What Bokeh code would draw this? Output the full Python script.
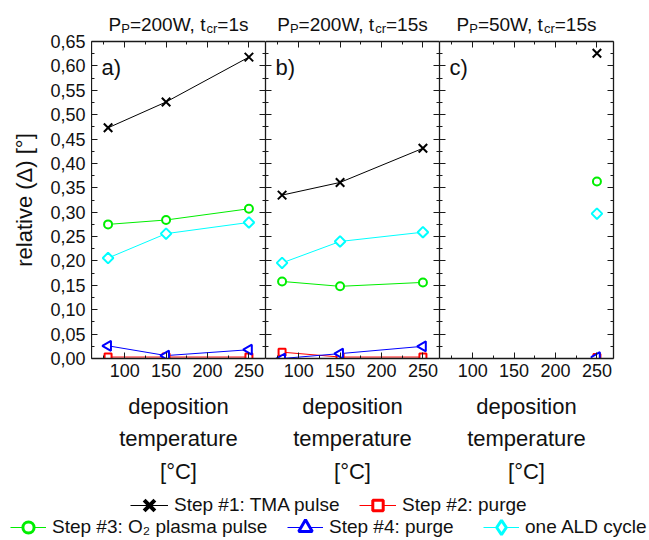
import math
from bokeh.plotting import figure
from bokeh.models import (FixedTicker, CustomJSTickFormatter, Label, Legend, LegendItem,
                          Range1d, LinearAxis, ColumnDataSource)
from bokeh.layouts import row, column
from bokeh.embed import file_html
from bokeh.resources import INLINE

FONT = "Liberation Sans"

# ---------------- data ----------------
temps = [80, 150, 250]
temps_c = [250]

a_tma = [0.473, 0.526, 0.618]
a_purge2 = [0.003, 0.003, 0.003]
a_o2 = [0.275, 0.284, 0.307]
a_purge4 = [0.026, 0.006, 0.018]
a_ald = [0.206, 0.256, 0.279]

b_tma = [0.335, 0.361, 0.431]
b_purge2 = [0.013, 0.003, 0.003]
b_o2 = [0.158, 0.148, 0.156]
b_purge4 = [0.0, 0.010, 0.025]
b_ald = [0.196, 0.240, 0.259]

c_tma = [0.626]
c_purge2 = [0.002]
c_o2 = [0.363]
c_purge4 = [0.003]
c_ald = [0.297]

x_major = [100, 150, 200, 250]
x_minor = [75, 125, 175, 225]
y_major = [round(i * 0.05, 2) for i in range(14)]
y_minor = [round(0.025 + i * 0.05, 3) for i in range(13)]

series_labels = ["Step #1: TMA pulse", "Step #2: purge", "Step #3: O\u2082 plasma pulse",
                 "Step #4: purge", "one ALD cycle"]
series_colors = ["#000000", "#FF0000", "#00EE00", "#0000FF", "#00FFFF"]

panel_titles = [
    [("P", 0), ("P", 1), ("=200W, t", 0), ("cr", 1), ("=1s", 0)],
    [("P", 0), ("P", 1), ("=200W, t", 0), ("cr", 1), ("=15s", 0)],
    [("P", 0), ("P", 1), ("=50W, t", 0), ("cr", 1), ("=15s", 0)],
]
panel_letters = ["a)", "b)", "c)"]

# ---------------- styles ----------------
# marker, size, angle, line width (plot)
mstyle = [("x", 12, 0.0, 2), ("square", 7, 0.0, 2), ("circle", 8, 0.0, 2),
          ("triangle", 10, math.pi / 2, 2), ("square", 7.5, math.pi / 4, 2)]
# legend key markers (legend keys are drawn unrotated by Bokeh)
leg_markers = ["x", "square", "circle", "triangle", "diamond"]

ARIAL = {'P': 667, '=': 584, '0': 556, '1': 556, '2': 556, '5': 556, 'W': 944, ',': 278,
         ' ': 278, 't': 278, 'c': 500, 'r': 333, 's': 500}


def tw(s, size):
    return sum(ARIAL.get(ch, 556) for ch in s) * size / 1000.0


LEFT = 91            # width of the y-axis strip
FW, FH = 174, 317    # panel frame size
MAIN, SUB = 19, 13
TH = 38              # title strip height
TOP = 3              # panel top border
BOT = 130            # panel bottom border
LH = 540 - TH - TOP - FH - BOT   # legend strip height
AXC = "#1a1a1a"

yfmt = CustomJSTickFormatter(code="return tick.toFixed(2).replace('.', ',');")


def style_axis(ax, labels):
    ax.axis_line_color = AXC
    ax.axis_line_width = 1.3
    ax.major_tick_line_color = AXC
    ax.minor_tick_line_color = AXC
    ax.major_tick_in = 6
    ax.major_tick_out = 0
    ax.minor_tick_in = 3
    ax.minor_tick_out = 0
    if labels:
        ax.major_label_text_font = FONT
        ax.major_label_text_font_size = "18px"
        ax.major_label_text_color = "#111111"
    else:
        ax.major_label_text_font_size = "0px"
        ax.major_label_text_color = None
        ax.major_label_standoff = 0


# ---------------- y-axis strip (tick labels + axis title) ----------------
yfig = figure(frame_width=1, frame_height=FH, x_range=Range1d(0, 1), y_range=Range1d(0, 0.65),
              min_border_left=LEFT - 1, min_border_right=0, min_border_top=TH + TOP,
              min_border_bottom=BOT, x_axis_type=None, toolbar_location=None,
              output_backend="svg", outline_line_color=None, border_fill_color="white",
              background_fill_color="white")
yfig.grid.visible = False
ya0 = yfig.yaxis[0]
ya0.ticker = FixedTicker(ticks=y_major, minor_ticks=y_minor)
ya0.formatter = yfmt
ya0.axis_line_color = None
ya0.major_tick_line_color = None
ya0.minor_tick_line_color = None
ya0.major_tick_in = 0
ya0.major_tick_out = 0
ya0.minor_tick_in = 0
ya0.minor_tick_out = 0
ya0.major_label_text_font = FONT
ya0.major_label_text_font_size = "18px"
ya0.major_label_text_color = "#111111"
ya0.major_label_standoff = 5
ya0.axis_label = "relative (\u0394) [°]"
ya0.axis_label_text_font = FONT
ya0.axis_label_text_font_size = "22px"
ya0.axis_label_text_font_style = "normal"
ya0.axis_label_standoff = 10
ya0.axis_label_text_color = "#111111"


def make_panel(idx, xs, data):
    right = 36 if idx == 2 else 0
    p = figure(frame_width=FW, frame_height=FH, x_range=Range1d(60, 270), y_range=Range1d(0, 0.65),
               min_border_left=0, min_border_right=right, min_border_top=TOP,
               min_border_bottom=BOT, toolbar_location=None, output_backend="svg",
               outline_line_color=None, border_fill_color="white", background_fill_color="white")
    p.grid.visible = False

    xa = p.xaxis[0]
    xa.ticker = FixedTicker(ticks=x_major, minor_ticks=x_minor)
    style_axis(xa, True)
    xa.major_label_standoff = 5
    xa.axis_label = "deposition\ntemperature\n[°C]"
    xa.axis_label_text_font = FONT
    xa.axis_label_text_font_size = "22px"
    xa.axis_label_text_font_style = "normal"
    xa.axis_label_text_line_height = 1.3
    xa.axis_label_standoff = 14
    xa.axis_label_text_color = "#111111"

    ya = p.yaxis[0]
    ya.ticker = FixedTicker(ticks=y_major, minor_ticks=y_minor)
    style_axis(ya, False)

    ra = LinearAxis(ticker=FixedTicker(ticks=y_major, minor_ticks=y_minor))
    style_axis(ra, False)
    p.add_layout(ra, "right")
    ta = LinearAxis(ticker=FixedTicker(ticks=x_major, minor_ticks=x_minor))
    style_axis(ta, False)
    p.add_layout(ta, "above")

    for k, ys in enumerate(data):
        col = series_colors[k]
        src = ColumnDataSource(dict(x=xs, y=ys))
        if len(xs) > 1:
            p.line("x", "y", source=src, line_color=col, line_width=1)
    for k, ys in enumerate(data):
        col = series_colors[k]
        mk, sz, ang, lw = mstyle[k]
        src = ColumnDataSource(dict(x=xs, y=ys))
        p.scatter("x", "y", source=src, marker=mk, size=sz, angle=ang, line_color=col,
                  fill_color="white" if mk != "x" else None, line_width=lw)

    p.add_layout(Label(x=10, y=FH - 26, x_units="screen", y_units="screen", text=panel_letters[idx],
                       text_font=FONT, text_font_size="22px", text_baseline="middle",
                       text_align="left", text_color="#111111"))
    return p


pa = make_panel(0, temps, [a_tma, a_purge2, a_o2, a_purge4, a_ald])
pb = make_panel(1, temps, [b_tma, b_purge2, b_o2, b_purge4, b_ald])
pc = make_panel(2, temps_c, [c_tma, c_purge2, c_o2, c_purge4, c_ald])

# ---------------- title strip (above the three panels) ----------------
tfig = figure(width=649 - LEFT, height=TH, x_range=Range1d(0, 1), y_range=Range1d(0, 1),
              x_axis_type=None, y_axis_type=None, min_border=0, toolbar_location=None,
              output_backend="svg", outline_line_color=None, border_fill_color="white")
tfig.grid.visible = False
for idx, pieces in enumerate(panel_titles):
    total = sum(tw(t, SUB if s else MAIN) for t, s in pieces)
    x0 = FW * (idx + 0.5) - total / 2
    for t, s in pieces:
        fs = SUB if s else MAIN
        tfig.add_layout(Label(x=x0, y=(10 if s else 14), x_units="screen", y_units="screen",
                              text=t, text_font=FONT, text_font_size=f"{fs}px",
                              text_baseline="alphabetic", text_align="left", text_color="#111111"))
        x0 += tw(t, fs)

# ---------------- legend strip ----------------
leg = figure(width=649, height=LH, x_range=Range1d(0, 1), y_range=Range1d(0, 1),
             x_axis_type=None, y_axis_type=None, min_border=0, toolbar_location=None,
             output_backend="svg", outline_line_color=None, border_fill_color="white")
leg.grid.visible = False

# (x of glyph start, row center from top, glyph width, glyph height, marker line width)
leg_layout = [(130, 17, 38, 46, 4), (359, 17, 37, 26, 3), (10, 39, 36, 28, 3),
              (287, 39, 36, 34, 3), (483, 39, 36, 36, 3)]
# legend key renderers: one point each, outside the strip's visible range
key_src = ColumnDataSource(dict(x=[temps[0]], y=[a_tma[0]]))
for k in range(5):
    col = series_colors[k]
    mk = leg_markers[k]
    gx, gyc, gw, gh, mlw = leg_layout[k]
    lr = leg.line("x", "y", source=key_src, line_color=col, line_width=1)
    sr = leg.scatter("x", "y", source=key_src, marker=mk, size=10, line_color=col,
                     fill_color="white" if mk != "x" else None, line_width=mlw)
    h = max(gh, 23)
    lg = Legend(items=[LegendItem(label=series_labels[k], renderers=[lr, sr])],
                location=(gx, LH - gyc - h / 2), orientation="horizontal",
                glyph_width=gw, glyph_height=gh, label_standoff=6, label_height=23,
                label_text_font=FONT, label_text_font_size="19px", label_text_color="#111111",
                padding=0, margin=0, spacing=0, border_line_color=None, background_fill_alpha=0)
    leg.add_layout(lg)

layout = column(row(yfig, column(tfig, row(pa, pb, pc))), leg)
open("out.html", "w").write(file_html(layout, INLINE))
